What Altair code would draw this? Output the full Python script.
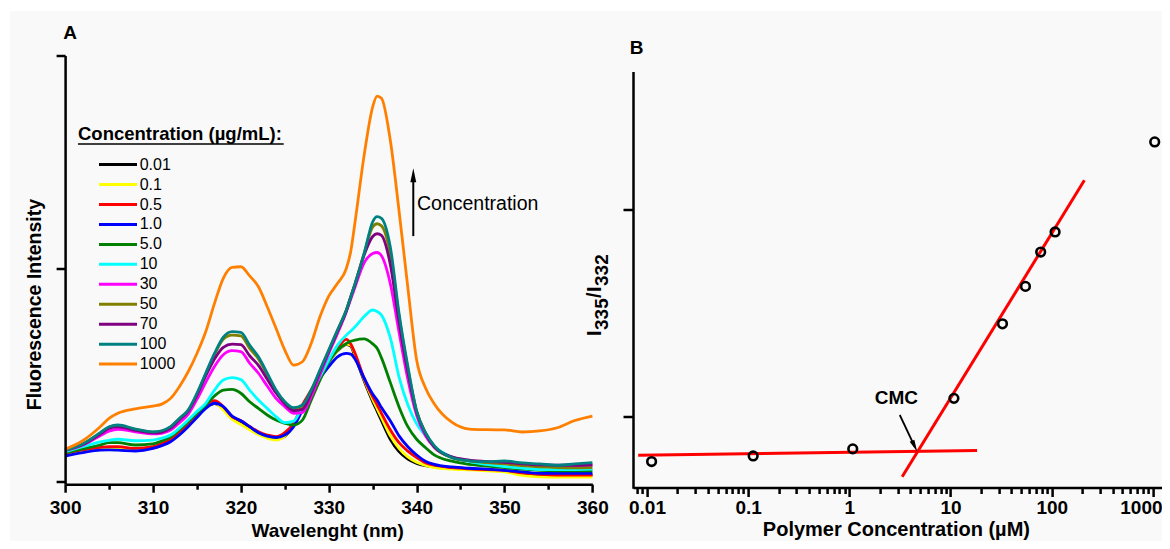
import altair as alt
import pandas as pd

FONT = "Liberation Sans"

# ---------------- Panel A data ----------------
wl = [300, 302, 304, 305, 306, 308, 310, 311, 312, 313, 314, 315, 316, 317, 318, 319, 320,
      321, 322, 323, 324, 325, 326, 327, 328, 329, 330, 331, 332, 332.5, 333, 334, 335, 335.5,
      336, 337, 338, 339, 340, 341, 342, 344, 346, 348, 350, 352, 354, 356, 358, 360]

labels = ["0.01", "0.1", "0.5", "1.0", "5.0", "10", "30", "50", "70", "100", "1000"]
colors = ["#000000", "#ffff00", "#ff0000", "#0000ff", "#008000", "#00ffff",
          "#ff00ff", "#808000", "#800080", "#008080", "#ff8000"]

s001 = [12.8, 14.5, 15.5, 15.8, 15.8, 15.2, 15.8, 17.0, 19.3, 22.5, 26.8, 31.0, 35.0, 36.5, 34.2, 30.0, 27.5,
        25.0, 22.8, 20.8, 19.8, 21.2, 26.2, 34.5, 42.0, 49.5, 56.0, 61.3, 64.3, 63.5, 58.5, 47.5, 37.5, 33.0,
        28.5, 19.8, 14.0, 10.5, 8.5, 7.4, 6.8, 6.2, 5.8, 5.4, 4.8, 3.6, 3.2, 3.0, 3.0, 3.0]
s01 = [13.0, 14.5, 15.5, 15.7, 15.8, 15.0, 15.8, 17.2, 19.4, 22.6, 26.8, 31.0, 35.2, 36.8, 33.5, 29.2, 26.8,
       24.2, 22.0, 20.3, 19.4, 21.2, 26.2, 34.5, 42.0, 49.5, 56.2, 61.5, 64.5, 64.0, 59.5, 48.2, 38.5, 34.2,
       30.0, 21.5, 15.5, 11.5, 9.0, 7.5, 6.5, 5.8, 5.4, 5.0, 4.5, 2.8, 2.2, 2.0, 2.0, 2.0]
s05 = [13.2, 14.8, 16.0, 16.3, 16.3, 15.5, 16.3, 17.8, 19.8, 23.2, 27.3, 31.5, 35.9, 37.9, 35.1, 30.4, 28.5,
       25.8, 23.3, 21.8, 21.0, 22.9, 27.3, 35.9, 42.9, 50.0, 57.0, 62.5, 66.7, 64.5, 60.1, 48.6, 39.8, 36.0,
       32.0, 24.3, 18.2, 14.2, 11.2, 8.8, 7.6, 6.5, 5.9, 5.5, 5.2, 4.0, 3.3, 3.0, 3.0, 3.0]
s1 = [11.9, 13.5, 14.7, 14.8, 14.7, 14.3, 15.5, 16.8, 18.6, 21.8, 25.7, 30.0, 34.3, 36.7, 35.1, 30.7, 28.5,
      25.7, 22.9, 21.3, 20.7, 21.8, 25.7, 33.5, 41.4, 48.4, 53.9, 58.5, 60.1, 59.8, 57.4, 48.8, 41.0, 38.2,
      34.7, 28.5, 21.4, 16.3, 12.4, 9.5, 8.0, 6.8, 6.2, 5.8, 5.2, 4.5, 3.8, 3.8, 3.8, 3.8]
s5 = [13.5, 15.3, 17.1, 18.2, 18.2, 17.1, 17.6, 19.0, 21.0, 24.3, 28.0, 32.0, 35.9, 40.1, 42.9, 43.2, 41.4,
      37.4, 34.3, 31.2, 28.8, 27.3, 26.5, 28.8, 38.2, 47.6, 56.2, 61.7, 64.8, 65.8, 66.4, 66.9, 64.6, 62.5,
      58.0, 46.5, 35.0, 25.7, 19.8, 15.9, 12.5, 9.5, 8.0, 7.2, 6.5, 5.8, 5.2, 5.0, 5.0, 5.0]
s10 = [13.9, 16.3, 18.6, 19.3, 19.8, 19.1, 19.4, 20.3, 21.8, 25.0, 28.8, 32.8, 36.7, 42.9, 47.6, 48.7, 47.8,
       42.9, 38.2, 34.3, 30.4, 27.6, 28.3, 35.1, 41.4, 49.2, 57.0, 64.0, 68.7, 70.6, 72.6, 77.3, 80.5, 79.8,
       78.1, 67.5, 49.0, 36.0, 27.0, 21.5, 16.5, 11.5, 9.3, 8.0, 7.0, 6.2, 5.6, 5.5, 5.6, 5.8]
s30 = [14.4, 17.0, 21.5, 23.6, 24.5, 23.3, 22.3, 22.6, 24.1, 27.5, 31.5, 38.5, 46.5, 54.0, 59.5, 61.4, 61.0,
       55.5, 50.8, 44.8, 39.0, 35.1, 32.0, 32.3, 39.8, 50.0, 60.1, 69.5, 79.7, 85.5, 91.4, 102.4, 107.0, 107.5,
       106.0, 93.0, 70.0, 48.0, 31.0, 21.5, 16.0, 11.5, 9.8, 9.2, 8.6, 8.0, 7.6, 7.5, 7.4, 7.5]
s50 = [14.7, 17.5, 22.7, 25.4, 26.2, 24.4, 23.1, 23.6, 25.5, 29.4, 33.3, 41.0, 50.4, 59.5, 66.8, 68.7, 68.4,
       62.5, 57.5, 50.2, 42.5, 37.2, 33.8, 35.0, 42.5, 52.0, 61.5, 71.0, 80.5, 86.8, 93.0, 106.8, 119.5, 121.0,
       120.0, 107.0, 77.5, 53.0, 33.0, 22.8, 16.4, 11.2, 9.6, 8.8, 8.2, 7.4, 6.8, 6.5, 6.4, 6.5]
s70 = [14.7, 17.3, 22.3, 24.9, 25.6, 24.0, 22.8, 23.2, 25.0, 29.0, 33.0, 40.5, 49.5, 57.5, 63.0, 64.5, 64.2,
       59.0, 54.5, 48.0, 41.5, 36.5, 33.2, 33.8, 41.5, 51.5, 61.0, 70.5, 80.0, 86.5, 92.5, 106.0, 115.0, 116.3,
       115.5, 102.0, 75.0, 51.5, 32.5, 22.5, 16.3, 11.5, 10.0, 9.3, 9.0, 8.3, 7.8, 7.6, 7.6, 7.8]
s100 = [14.7, 17.6, 22.9, 25.7, 26.5, 24.6, 23.3, 23.8, 25.7, 29.6, 33.5, 41.4, 50.8, 60.1, 67.7, 70.3, 70.0,
        64.0, 58.5, 50.8, 42.9, 37.4, 34.6, 35.9, 42.9, 52.3, 61.7, 71.1, 80.5, 86.5, 93.0, 106.5, 121.9, 124.3,
        123.5, 110.2, 78.9, 54.0, 33.0, 23.0, 16.8, 11.2, 9.7, 9.3, 9.6, 8.7, 8.2, 7.6, 8.2, 8.8]
s1000 = [15.1, 19.1, 25.7, 29.6, 32.0, 34.1, 35.4, 36.3, 39.0, 44.5, 51.5, 60.1, 70.3, 83.6, 95.4, 100.5, 100.8,
         96.5, 91.4, 82.0, 71.9, 61.7, 54.6, 56.2, 64.8, 77.3, 87.0, 93.0, 100.0, 108.0, 122.0, 152.4, 175.9, 180.9,
         179.9, 160.3, 127.0, 91.0, 57.0, 44.0, 36.5, 27.8, 24.6, 24.3, 24.2, 23.2, 23.7, 25.2, 28.6, 30.7]

spectra = [s001, s01, s05, s1, s5, s10, s30, s50, s70, s100, s1000]

# ---------------- Panel B data ----------------
conc_b = [0.0111, 0.112, 1.08, 10.8, 32.6, 55.0, 77.8, 108.0, 1042.0]
ratio_b = [0.785, 0.812, 0.846, 1.090, 1.450, 1.631, 1.797, 1.894, 2.329]

fit_seg = ["low", "low", "high", "high"]
fit_c = [0.00818, 18.3, 3.325, 210.3]
fit_r = [0.8155, 0.8377, 0.7116, 2.1435]

# ---------------- build tables ----------------
rows = []
for lab, vals in zip(labels, spectra):
    for w, v in zip(wl, vals):
        rows.append({"wl": w, "I": v, "conc": lab})
df_a = pd.DataFrame(rows)
df_leg = pd.DataFrame({"conc": labels})
df_b = pd.DataFrame({"c": conc_b, "r": ratio_b})
df_fit = pd.DataFrame({"c": fit_c, "r": fit_r, "seg": fit_seg})
df_bticks = pd.DataFrame({"r": [1, 2]})
one = pd.DataFrame({"k": [0]})

color_scale = alt.Scale(domain=labels, range=colors)
ARROW = "M0,-1L0.42,1L-0.42,1Z"

# layout (pixels relative to panel A plot origin)
WA, HA = 527.3, 428.7
BX0, BX1 = 567.9, 1096.9          # panel B axis span


def txt(t, x, y, size, weight="bold", angle=0, align="center", baseline="middle"):
    return alt.Chart(pd.DataFrame({"t": [t]})).mark_text(
        font=FONT, fontSize=size, fontWeight=weight, angle=angle, align=align,
        baseline=baseline, color="black"
    ).encode(x=alt.value(x), y=alt.value(y), text="t:N")


AX = dict(domainColor="black", domainWidth=2.5, tickColor="black", tickWidth=2.5, zindex=3,
          labelFont=FONT, labelFontWeight="bold", labelFontSize=19, labelColor="black",
          grid=False, title=None, labelFlush=False, labelOverlap=False)

# ---------------- Panel A ----------------
xA = alt.X("wl:Q", scale=alt.Scale(domain=[300, 360], nice=False, zero=False),
           axis=alt.Axis(values=list(range(300, 361, 5)), orient="bottom",
                         labelExpr="datum.value % 10 == 0 ? datum.label : ''",
                         tickSize={"condition": {"test": "datum.value % 10 == 0", "value": 8}, "value": 5},
                         labelPadding=6, **AX))
yA = alt.Y("I:Q", scale=alt.Scale(domain=[-1.3, 200], nice=False, zero=False),
           axis=alt.Axis(values=[0, 100, 200], orient="left", labels=False, tickSize=9, **AX))

bg = alt.Chart(one).mark_rect(color="#f9f9f9").encode(
    x=alt.value(-55.1), x2=alt.value(1110), y=alt.value(-44.5), y2=alt.value(500))

lines = alt.Chart(df_a).mark_line(strokeWidth=2.8, interpolate="monotone").encode(
    x=xA, y=yA, color=alt.Color("conc:N", scale=color_scale, legend=None))

arrow_a = alt.Chart(one).mark_rule(strokeWidth=2, color="black").encode(
    x=alt.datum(339.62), y=alt.datum(115.2), y2=alt.datum(141.5))
head_a = alt.Chart(one).mark_point(shape=ARROW, filled=True, size=196, color="black", opacity=1).encode(
    x=alt.datum(339.62), y=alt.datum(143.8))
conc_txt = alt.Chart(pd.DataFrame({"t": ["Concentration"]})).mark_text(
    font=FONT, fontSize=19.5, align="left", baseline="middle", color="black").encode(
    x=alt.datum(340.04), y=alt.datum(130.2), text="t:N")

leg_title = txt("Concentration (\u00b5g/mL):", 12.9, 84.5, 18.5, align="left", baseline="alphabetic")
leg_ul = alt.Chart(one).mark_rule(strokeWidth=1.5, color="black").encode(
    x=alt.value(12.9), x2=alt.value(218.6), y=alt.value(88.5))

lab_a = txt("A", 4.9, -22.2, 19)
ytitle_a = txt("Fluorescence Intensity", -30.4, 249.1, 19.5, angle=270)
xtitle_a = txt("Wavelenght (nm)", 262.5, 475.5, 19)

legY = alt.Y("conc:N", scale=alt.Scale(type="point", domain=labels, range=[109.1, 308.6], padding=0), axis=None)
leg_lines = alt.Chart(df_leg).mark_rule(strokeWidth=3).encode(
    x=alt.value(33.9), x2=alt.value(71.9), y=legY,
    color=alt.Color("conc:N", scale=color_scale, legend=None))
leg_text = alt.Chart(df_leg).mark_text(font=FONT, fontSize=16, align="left", baseline="middle",
                                       color="black").encode(
    x=alt.value(74.6), y=legY, text="conc:N")

core_a = alt.layer(bg, lines, arrow_a, head_a, conc_txt, leg_title, leg_ul, lab_a, ytitle_a, xtitle_a)
legend_a = alt.layer(leg_lines, leg_text)

# ---------------- Panel B ----------------
ticks_b = [0.008, 0.009]
for d in [0.01, 0.1, 1, 10, 100]:
    for k in range(1, 10):
        ticks_b.append(round(d * k, 6))
ticks_b.append(1000)

MAJ = "indexof([0.01,0.1,1,10,100,1000], datum.value) >= 0"
xB = alt.X("c:Q", scale=alt.Scale(type="log", domain=[0.00727, 1230], nice=False, range=[BX0, BX1]),
           axis=alt.Axis(values=ticks_b, orient="bottom", offset=3.3,
                         labelExpr=MAJ + " ? toString(datum.value) : ''",
                         tickSize={"condition": {"test": MAJ, "value": 9}, "value": 6},
                         labelOffset={"condition": {"test": "datum.value == 1000", "value": -12}, "value": 0},
                         labelPadding=1.5, **AX))
yB = alt.Y("r:Q", scale=alt.Scale(domain=[1, 2], range=[361.5, 154.5], nice=False, zero=False), axis=None)

fit = alt.Chart(df_fit).mark_line(color="#ff0000", strokeWidth=3).encode(x=xB, y=yB, detail="seg:N")
pts = alt.Chart(df_b).mark_point(shape="circle", filled=False, size=75, strokeWidth=2.6,
                                 color="black", opacity=1).encode(x=xB, y=yB)
yaxis_b = alt.Chart(one).mark_rule(strokeWidth=2.5, color="black").encode(
    x=alt.value(BX0 + 0.5), y=alt.value(16.5), y2=alt.value(433.3))
yticks_b = alt.Chart(df_bticks).mark_rule(strokeWidth=2.5, color="black").encode(
    x=alt.value(BX0 - 9.5), x2=alt.value(BX0 + 0.5), y=yB)
cmc_rule = alt.Chart(one).mark_rule(strokeWidth=1.8, color="black").encode(
    x=alt.datum(3.15), x2=alt.datum(4.413), y=alt.datum(1.0097), y2=alt.datum(0.8585))
cmc_head = alt.Chart(one).mark_point(shape=ARROW, filled=True, size=150, angle=154.7,
                                     color="black", opacity=1).encode(
    x=alt.datum(4.413), y=alt.datum(0.8585))
cmc_txt = alt.Chart(pd.DataFrame({"t": ["CMC"]})).mark_text(
    font=FONT, fontSize=19, fontWeight="bold", align="center", baseline="middle", color="black").encode(
    x=alt.datum(2.92), y=alt.datum(1.0928), text="t:N")

lab_b = txt("B", BX0 + 3.7, -7.3, 19)
xtitle_b = txt("Polymer Concentration (\u00b5M)", BX0 + 263.4, 474.5, 20)
yt1 = txt("I", BX0 - 32, 280.5, 20, angle=270, align="left", baseline="alphabetic")
yt2 = txt("335", BX0 - 25, 274.5, 19, angle=270, align="left", baseline="alphabetic")
yt3 = txt("/", BX0 - 32, 242.5, 20, angle=270, align="left", baseline="alphabetic")
yt4 = txt("I", BX0 - 32, 236.5, 20, angle=270, align="left", baseline="alphabetic")
yt5 = txt("332", BX0 - 25, 230.5, 19, angle=270, align="left", baseline="alphabetic")

panel_b = alt.layer(fit, pts, yaxis_b, yticks_b, cmc_rule, cmc_head, cmc_txt, lab_b, xtitle_b,
                    yt1, yt2, yt3, yt4, yt5)

chart = alt.layer(core_a, legend_a, panel_b).resolve_scale(
    x="independent", y="independent"
).properties(
    width=WA, height=HA,
    autosize=alt.AutoSizeParams(type="none"),
    padding={"left": 57.1, "top": 47.5, "right": 1154 - 57.1 - WA, "bottom": 533 - 47.5 - HA},
    background="white"
).configure_view(strokeWidth=0)

chart.save("out.html", embed_options={"renderer": "svg", "actions": False})
